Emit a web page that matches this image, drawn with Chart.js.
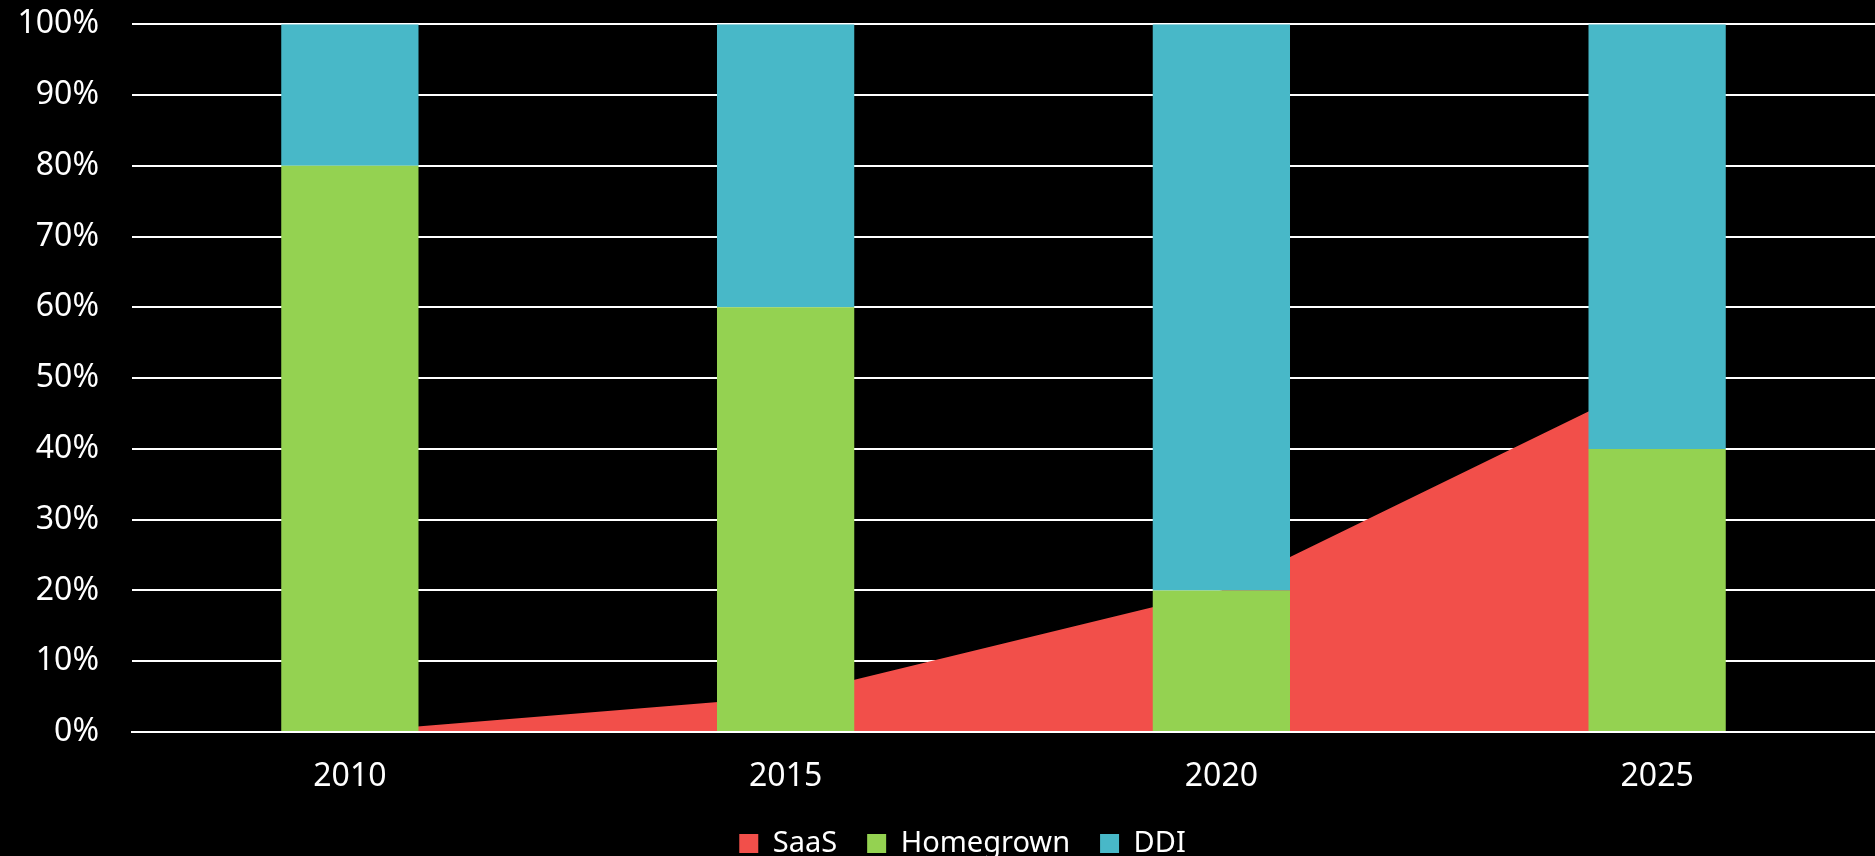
<!DOCTYPE html>
<html>
<head>
<meta charset="utf-8">
<script src="https://cdn.jsdelivr.net/npm/chart.js@4.4.0/dist/chart.umd.min.js"></script>
<style>
  html, body { margin: 0; padding: 0; background: #000; overflow: hidden; }
  #wrap { position: relative; width: 1875px; height: 856px; overflow: hidden; }
  #c { position: absolute; left: 0; top: -28px; }
</style>
</head>
<body>
<div id="wrap"><canvas id="c" width="1875" height="896"></canvas></div>
<script>
const categories = ['2010', '2015', '2020', '2025'];
const saas = [0, 5, 20, 50];
const homegrown = [80, 60, 20, 40];
const ddi = [20, 40, 80, 60];
const yTicks = [0, 10, 20, 30, 40, 50, 60, 70, 80, 90, 100];

const FONT = '"Noto Sans", "Open Sans", sans-serif';

const legendShift = {
  id: 'legendShift',
  afterLayout(chart) {
    if (chart.legend) { chart.legend.left += 25; chart.legend.right += 25; }
  }
};

new Chart(document.getElementById('c'), {
  data: {
    labels: categories,
    datasets: [
      {
        type: 'line', label: 'SaaS', data: saas,
        backgroundColor: '#F24F4A', borderColor: '#F24F4A', borderWidth: 0,
        fill: 'origin', pointRadius: 0, tension: 0, order: 2, stack: 'area'
      },
      {
        type: 'bar', label: 'Homegrown', data: homegrown,
        backgroundColor: '#94D251', borderWidth: 0, order: 1, stack: 'bars'
      },
      {
        type: 'bar', label: 'DDI', data: ddi,
        backgroundColor: '#48B8C8', borderWidth: 0, order: 1, stack: 'bars'
      }
    ]
  },
  plugins: [legendShift],
  options: {
    responsive: false,
    animation: false,
    layout: { padding: { top: 0, right: 0, left: 0, bottom: 0 } },
    datasets: { bar: { barPercentage: 1, categoryPercentage: 0.315 } },
    scales: {
      x: {
        stacked: true,
        offset: true,
        grid: { display: false, drawTicks: false },
        border: { display: true, color: '#FFFFFF', width: 2, z: 1 },
        ticks: { color: '#FFFFFF', font: { family: FONT, size: 32 }, padding: 26 },
        afterFit: (s) => { s.height = 67; }
      },
      y: {
        stacked: true,
        min: 0, max: 100,
        afterBuildTicks: (s) => { s.ticks = yTicks.map(v => ({ value: v })); },
        grid: { color: '#FFFFFF', lineWidth: 2, drawTicks: false },
        border: { display: false },
        ticks: {
          color: '#FFFFFF', font: { family: FONT, size: 32 }, padding: 33,
          callback: (v) => v + '%'
        },
        afterFit: (s) => { s.width = 132; }
      }
    },
    plugins: {
      legend: {
        position: 'bottom',
        labels: {
          color: '#FFFFFF', font: { family: FONT, size: 29 },
          boxWidth: 19, boxHeight: 19, padding: 30,
          sort: (a, b) => a.datasetIndex - b.datasetIndex
        }
      },
      tooltip: { enabled: false }
    }
  }
});
</script>
</body>
</html>
